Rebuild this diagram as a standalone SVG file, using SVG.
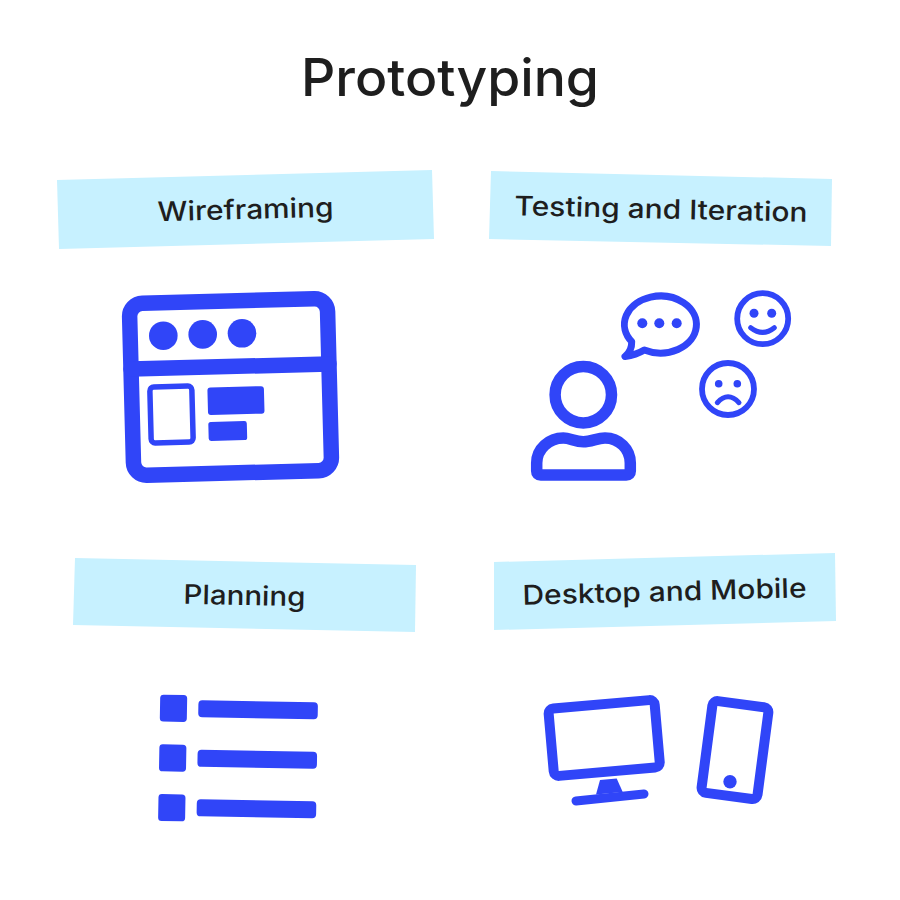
<svg xmlns="http://www.w3.org/2000/svg" width="900" height="900" viewBox="0 0 900 900">
<style>
.banner{fill:#c7f1ff}
.t{font-family:"Inter","Liberation Sans",sans-serif;font-size:27px;font-weight:500;fill:#1e1e1e}
.title{font-family:"Inter","Liberation Sans",sans-serif;font-size:52px;font-weight:500;fill:#1e1e1e}
.f{fill:#3045f8}
.s{fill:none;stroke:#3045f8;stroke-linecap:round;stroke-linejoin:round}
</style>
<rect width="900" height="900" fill="#fff"/>
<text class="title" x="301" y="96" textLength="298" lengthAdjust="spacingAndGlyphs">Prototyping</text>
<g id="wireframing">
<polygon class="banner" points="57,180 432,170 434,239 59,249"/>
<text class="t" x="157.500" y="219" textLength="176" lengthAdjust="spacingAndGlyphs" transform="rotate(-1.5 245 209)">Wireframing</text>
<g transform="rotate(-1.5 230.5 386.5)">
<rect class="s" x="131.500" y="301" width="198" height="172" rx="13" stroke-width="15.500"/>
<line class="s" x1="131.500" y1="366.500" x2="329.500" y2="366.500" stroke-width="15.500" stroke-linecap="butt"/>
</g>
<circle class="f" cx="163.3" cy="335.7" r="14.3"/>
<circle class="f" cx="202.7" cy="334.4" r="14.3"/>
<circle class="f" cx="242" cy="333.3" r="14.3"/>
<rect class="s" x="150.500" y="386.500" width="42" height="56" rx="4" stroke-width="5.500" transform="rotate(-1.5 171.5 414.5)"/>
<rect class="f" x="207.700" y="386.800" width="56.500" height="27.500" rx="3" transform="rotate(-1.5 236 400.5)"/>
<rect class="f" x="208.500" y="421.500" width="38.500" height="19" rx="2.500" transform="rotate(-1.5 227.7 431)"/>
</g>
<g id="testing-and-iteration">
<polygon class="banner" points="491,171 832,179 831,246 489,239"/>
<text class="t" x="514.500" y="218.500" textLength="293" lengthAdjust="spacingAndGlyphs" transform="rotate(1.3 660 209)">Testing and Iteration</text>
<circle class="s" cx="583.3" cy="394.7" r="28.2" stroke-width="11.500"/>
<path class="s" stroke-width="11.500" d="M536.7 471V463C536.7 449 549 438 563.3 438C570 438 575 441.7 583.3 441.7C591.500 441.700 597 438 605 438C619 438 630.300 449 630.300 463V471Q630.300 475 626.300 475H540.700Q536.700 475 536.700 471Z"/>
<path class="s" stroke-width="7" d="M644.300 350A36 28.500 0 1 0 631.700 341.700Q632 351 625 356.500Q636 355 644.300 350Z"/>
<circle class="f" cx="642.300" cy="323.300" r="5"/>
<circle class="f" cx="659.300" cy="323.300" r="5"/>
<circle class="f" cx="676.700" cy="323.300" r="5"/>
<circle class="s" cx="762.700" cy="318.700" r="25.500" stroke-width="5.800"/>
<circle class="f" cx="754" cy="313.300" r="4.500"/>
<circle class="f" cx="771.700" cy="313.300" r="4.500"/>
<path class="s" stroke-width="5" d="M750.700 327.700Q762.700 337 774.300 327.700"/>
<circle class="s" cx="728" cy="389" r="26" stroke-width="5.800"/>
<circle class="f" cx="718.700" cy="383.700" r="3.800"/>
<circle class="f" cx="737.300" cy="383.700" r="3.800"/>
<path class="s" stroke-width="5" d="M717.300 402.700Q728 391 739 402.700"/>
</g>
<g id="planning">
<polygon class="banner" points="75,558 416,565 415,632 73,625"/>
<text class="t" x="183.500" y="605" textLength="122" lengthAdjust="spacingAndGlyphs" transform="rotate(1.2 244 596)">Planning</text>
<rect class="f" x="160" y="694.800" width="27" height="27" rx="3.500" transform="rotate(1 173.500 708.300)"/>
<rect class="f" x="159.200" y="744.500" width="27" height="27" rx="3.500" transform="rotate(1 172.700 758)"/>
<rect class="f" x="158.300" y="794.200" width="27" height="27" rx="3.500" transform="rotate(1 171.800 807.700)"/>
<rect class="f" x="198.300" y="701.200" width="119.500" height="17" rx="4" transform="rotate(1 257.800 709.700)"/>
<rect class="f" x="197.500" y="750.800" width="119.500" height="17" rx="4" transform="rotate(1 257 759.300)"/>
<rect class="f" x="196.700" y="800.300" width="119.500" height="17" rx="4" transform="rotate(1 256.200 808.800)"/>
</g>
<g id="desktop-and-mobile">
<polygon class="banner" points="494,562 835,553 836,621 494,630"/>
<text class="t" x="522.500" y="601" textLength="284" lengthAdjust="spacingAndGlyphs" transform="rotate(-1.5 664 592)">Desktop and Mobile</text>
<rect class="s" x="551" y="704.200" width="106.400" height="67.600" rx="5" stroke-width="10" transform="rotate(-5 604.200 738)"/>
<polygon class="f" points="600,780 616.700,778.500 622.700,792 596,794.500"/>
<line class="s" x1="576" y1="800.900" x2="644" y2="793.900" stroke-width="9"/>
<rect class="s" x="706.800" y="703.800" width="56.400" height="92.500" rx="5" stroke-width="10" transform="rotate(7.500 735 749.800)"/>
<circle class="f" cx="730" cy="781.700" r="6.700"/>
</g>
<g id="connectors"/>
</svg>
